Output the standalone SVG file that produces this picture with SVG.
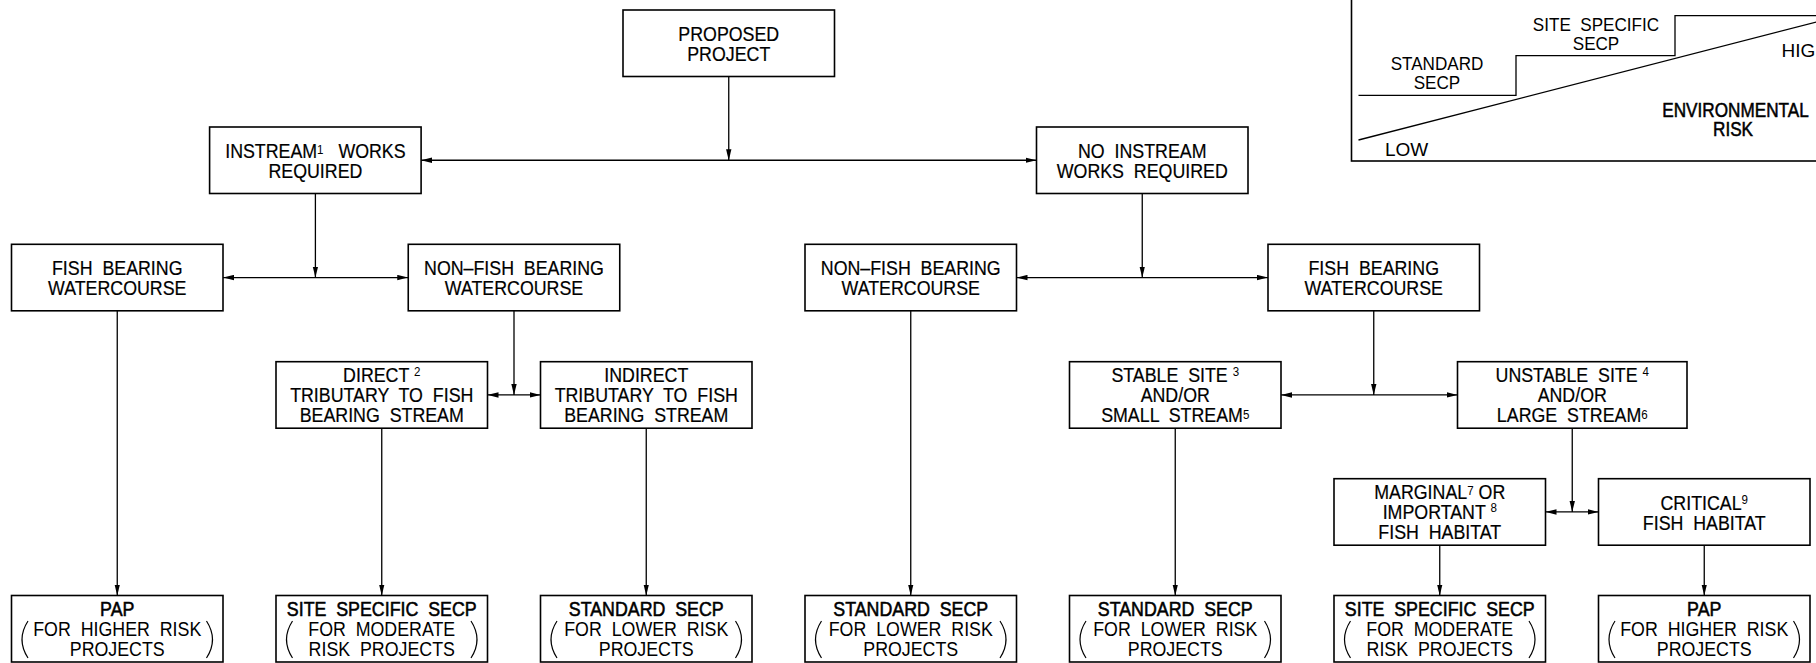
<svg xmlns="http://www.w3.org/2000/svg" width="1816" height="663" viewBox="0 0 1816 663">
<style>
text { font-family: "Liberation Sans", Arial, sans-serif; fill: #000; }
.n { font-size: 20px; text-anchor: middle; transform-box: fill-box; transform-origin: center; transform: scaleX(0.89); stroke: #000; stroke-width: 0.2px; }
.t { stroke-width: 0; }
.b { stroke-width: 0.55px; }
.s { font-size: 13px; stroke-width: 0; }
.lg { font-size: 19px; text-anchor: middle; transform-box: fill-box; transform-origin: center; transform: scaleX(0.9); }
.ls { font-size: 19px; text-anchor: start; }
.env { font-size: 19.5px; stroke: #000; stroke-width: 0.5px; transform: scaleX(0.88); }
.box { fill: #fff; stroke: #000; stroke-width: 1.6; }
.c { fill: none; stroke: #000; stroke-width: 1.3; }
.p { fill: none; stroke: #000; stroke-width: 1.2; }
</style>
<defs>
<marker id="ah" viewBox="0 0 11 6" refX="11" refY="3" markerWidth="11" markerHeight="6" markerUnits="userSpaceOnUse" orient="auto-start-reverse"><path d="M0,0.3 L11,3 L0,5.7 z" fill="#000"/></marker>
</defs>
<rect width="1816" height="663" fill="#fff"/>

<g id="legend">
<rect x="1351.5" y="-20" width="500" height="181" fill="none" stroke="#000" stroke-width="1.6"/>
<polyline class="c" points="1358.5,95.3 1516,95.3 1516,55.7 1675,55.7 1675,15.7 1830,15.7"/>
<line class="c" x1="1358.5" y1="140" x2="1830" y2="18.5"/>
<text class="lg" x="1437" y="70">STANDARD</text>
<text class="lg" x="1437" y="89.5">SECP</text>
<text class="lg" x="1596" y="31" xml:space="preserve">SITE  SPECIFIC</text>
<text class="lg" x="1596" y="50.5">SECP</text>
<text class="ls" x="1781.5" y="56.5">HIGH</text>
<text class="lg env" x="1735.5" y="117">ENVIRONMENTAL</text>
<text class="lg env" x="1733" y="136.5">RISK</text>
<text class="ls" x="1385" y="156">LOW</text>
</g>

<g id="connectors">
<line class="c" x1="728.75" y1="76.5" x2="728.75" y2="160.25" marker-end="url(#ah)"/>
<line class="c" x1="421.1" y1="160.25" x2="1036.5" y2="160.25" marker-start="url(#ah)" marker-end="url(#ah)"/>
<line class="c" x1="315.4" y1="193.5" x2="315.4" y2="277.55" marker-end="url(#ah)"/>
<line class="c" x1="223" y1="277.55" x2="408.25" y2="277.55" marker-start="url(#ah)" marker-end="url(#ah)"/>
<line class="c" x1="1142.25" y1="193.5" x2="1142.25" y2="277.55" marker-end="url(#ah)"/>
<line class="c" x1="1016.5" y1="277.55" x2="1268" y2="277.55" marker-start="url(#ah)" marker-end="url(#ah)"/>
<line class="c" x1="117.25" y1="310.8" x2="117.25" y2="595.5" marker-end="url(#ah)"/>
<line class="c" x1="514" y1="310.8" x2="514" y2="394.95" marker-end="url(#ah)"/>
<line class="c" x1="487.5" y1="394.95" x2="540.5" y2="394.95" marker-start="url(#ah)" marker-end="url(#ah)"/>
<line class="c" x1="381.75" y1="428.2" x2="381.75" y2="595.5" marker-end="url(#ah)"/>
<line class="c" x1="646.25" y1="428.2" x2="646.25" y2="595.5" marker-end="url(#ah)"/>
<line class="c" x1="910.75" y1="310.8" x2="910.75" y2="595.5" marker-end="url(#ah)"/>
<line class="c" x1="1373.75" y1="310.8" x2="1373.75" y2="394.95" marker-end="url(#ah)"/>
<line class="c" x1="1281" y1="394.95" x2="1457.5" y2="394.95" marker-start="url(#ah)" marker-end="url(#ah)"/>
<line class="c" x1="1175.25" y1="428.2" x2="1175.25" y2="595.5" marker-end="url(#ah)"/>
<line class="c" x1="1572.25" y1="428.2" x2="1572.25" y2="511.95" marker-end="url(#ah)"/>
<line class="c" x1="1545.5" y1="511.95" x2="1598.5" y2="511.95" marker-start="url(#ah)" marker-end="url(#ah)"/>
<line class="c" x1="1439.75" y1="545.2" x2="1439.75" y2="595.5" marker-end="url(#ah)"/>
<line class="c" x1="1704.25" y1="545.2" x2="1704.25" y2="595.5" marker-end="url(#ah)"/>
</g>

<g id="proposed-project">
<rect class="box" x="623" y="10" width="211.5" height="66.5"/>
<text class="n" x="728.75" y="41">PROPOSED</text>
<text class="n" x="728.75" y="61">PROJECT</text>
</g>

<g id="instream-works">
<rect class="box" x="209.6" y="127" width="211.5" height="66.5"/>
<text class="n" x="315.4" y="158" xml:space="preserve">INSTREAM<tspan class="s" dy="-4">1</tspan><tspan dy="4">   WORKS</tspan></text>
<text class="n" x="315.4" y="178">REQUIRED</text>
</g>

<g id="no-instream-works">
<rect class="box" x="1036.5" y="127" width="211.5" height="66.5"/>
<text class="n" x="1142.25" y="158" xml:space="preserve">NO  INSTREAM</text>
<text class="n" x="1142.25" y="178" xml:space="preserve">WORKS  REQUIRED</text>
</g>

<g id="fish-bearing-left">
<rect class="box" x="11.5" y="244.3" width="211.5" height="66.5"/>
<text class="n" x="117.25" y="275.3" xml:space="preserve">FISH  BEARING</text>
<text class="n" x="117.25" y="295.3">WATERCOURSE</text>
</g>

<g id="non-fish-bearing-left">
<rect class="box" x="408.25" y="244.3" width="211.5" height="66.5"/>
<text class="n" x="514" y="275.3" xml:space="preserve">NON–FISH  BEARING</text>
<text class="n" x="514" y="295.3">WATERCOURSE</text>
</g>

<g id="non-fish-bearing-right">
<rect class="box" x="805" y="244.3" width="211.5" height="66.5"/>
<text class="n" x="910.75" y="275.3" xml:space="preserve">NON–FISH  BEARING</text>
<text class="n" x="910.75" y="295.3">WATERCOURSE</text>
</g>

<g id="fish-bearing-right">
<rect class="box" x="1268" y="244.3" width="211.5" height="66.5"/>
<text class="n" x="1373.75" y="275.3" xml:space="preserve">FISH  BEARING</text>
<text class="n" x="1373.75" y="295.3">WATERCOURSE</text>
</g>

<g id="direct-tributary">
<rect class="box" x="276" y="361.7" width="211.5" height="66.5"/>
<text class="n" x="381.75" y="382.5" xml:space="preserve">DIRECT <tspan class="s" dy="-6">2</tspan></text>
<text class="n" x="381.75" y="402.5" xml:space="preserve">TRIBUTARY  TO  FISH</text>
<text class="n" x="381.75" y="422.5" xml:space="preserve">BEARING  STREAM</text>
</g>

<g id="indirect-tributary">
<rect class="box" x="540.5" y="361.7" width="211.5" height="66.5"/>
<text class="n" x="646.25" y="382.5">INDIRECT</text>
<text class="n" x="646.25" y="402.5" xml:space="preserve">TRIBUTARY  TO  FISH</text>
<text class="n" x="646.25" y="422.5" xml:space="preserve">BEARING  STREAM</text>
</g>

<g id="stable-site">
<rect class="box" x="1069.5" y="361.7" width="211.5" height="66.5"/>
<text class="n" x="1175.25" y="382.5" xml:space="preserve">STABLE  SITE <tspan class="s" dy="-6">3</tspan></text>
<text class="n" x="1175.25" y="402.5">AND/OR</text>
<text class="n" x="1175.25" y="422.5" xml:space="preserve">SMALL  STREAM<tspan class="s" dy="-3">5</tspan></text>
</g>

<g id="unstable-site">
<rect class="box" x="1457.5" y="361.7" width="229.5" height="66.5"/>
<text class="n" x="1572.25" y="382.5" xml:space="preserve">UNSTABLE  SITE <tspan class="s" dy="-6">4</tspan></text>
<text class="n" x="1572.25" y="402.5">AND/OR</text>
<text class="n" x="1572.25" y="422.5" xml:space="preserve">LARGE  STREAM<tspan class="s" dy="-3">6</tspan></text>
</g>

<g id="marginal-important-habitat">
<rect class="box" x="1334" y="478.7" width="211.5" height="66.5"/>
<text class="n" x="1439.75" y="499.5" xml:space="preserve">MARGINAL<tspan class="s" dy="-4">7</tspan><tspan dy="4"> OR</tspan></text>
<text class="n" x="1439.75" y="519.5" xml:space="preserve">IMPORTANT <tspan class="s" dy="-7">8</tspan></text>
<text class="n" x="1439.75" y="539.5" xml:space="preserve">FISH  HABITAT</text>
</g>

<g id="critical-habitat">
<rect class="box" x="1598.5" y="478.7" width="211.5" height="66.5"/>
<text class="n" x="1704.25" y="509.7" xml:space="preserve">CRITICAL<tspan class="s" dy="-6">9</tspan></text>
<text class="n" x="1704.25" y="529.7" xml:space="preserve">FISH  HABITAT</text>
</g>

<g id="result-pap-left">
<rect class="box" x="11.5" y="595.5" width="211.5" height="66.5"/>
<text class="n b" x="117.25" y="616.3">PAP</text>
<text class="n t" x="117.25" y="636.3" xml:space="preserve">FOR  HIGHER  RISK</text>
<text class="n t" x="117.25" y="656.3">PROJECTS</text>
<path class="p" d="M28,621 Q16,639.5 28,658 M206.5,621 Q218.5,639.5 206.5,658"/>
</g>

<g id="result-site-specific-left">
<rect class="box" x="276" y="595.5" width="211.5" height="66.5"/>
<text class="n b" x="381.75" y="616.3" xml:space="preserve">SITE  SPECIFIC  SECP</text>
<text class="n t" x="381.75" y="636.3" xml:space="preserve">FOR  MODERATE</text>
<text class="n t" x="381.75" y="656.3" xml:space="preserve">RISK  PROJECTS</text>
<path class="p" d="M292.5,621 Q280.5,639.5 292.5,658 M471,621 Q483,639.5 471,658"/>
</g>

<g id="result-standard-1">
<rect class="box" x="540.5" y="595.5" width="211.5" height="66.5"/>
<text class="n b" x="646.25" y="616.3" xml:space="preserve">STANDARD  SECP</text>
<text class="n t" x="646.25" y="636.3" xml:space="preserve">FOR  LOWER  RISK</text>
<text class="n t" x="646.25" y="656.3">PROJECTS</text>
<path class="p" d="M557,621 Q545,639.5 557,658 M735.5,621 Q747.5,639.5 735.5,658"/>
</g>

<g id="result-standard-2">
<rect class="box" x="805" y="595.5" width="211.5" height="66.5"/>
<text class="n b" x="910.75" y="616.3" xml:space="preserve">STANDARD  SECP</text>
<text class="n t" x="910.75" y="636.3" xml:space="preserve">FOR  LOWER  RISK</text>
<text class="n t" x="910.75" y="656.3">PROJECTS</text>
<path class="p" d="M821.5,621 Q809.5,639.5 821.5,658 M1000,621 Q1012,639.5 1000,658"/>
</g>

<g id="result-standard-3">
<rect class="box" x="1069.5" y="595.5" width="211.5" height="66.5"/>
<text class="n b" x="1175.25" y="616.3" xml:space="preserve">STANDARD  SECP</text>
<text class="n t" x="1175.25" y="636.3" xml:space="preserve">FOR  LOWER  RISK</text>
<text class="n t" x="1175.25" y="656.3">PROJECTS</text>
<path class="p" d="M1086,621 Q1074,639.5 1086,658 M1264.5,621 Q1276.5,639.5 1264.5,658"/>
</g>

<g id="result-site-specific-right">
<rect class="box" x="1334" y="595.5" width="211.5" height="66.5"/>
<text class="n b" x="1439.75" y="616.3" xml:space="preserve">SITE  SPECIFIC  SECP</text>
<text class="n t" x="1439.75" y="636.3" xml:space="preserve">FOR  MODERATE</text>
<text class="n t" x="1439.75" y="656.3" xml:space="preserve">RISK  PROJECTS</text>
<path class="p" d="M1350.5,621 Q1338.5,639.5 1350.5,658 M1529,621 Q1541,639.5 1529,658"/>
</g>

<g id="result-pap-right">
<rect class="box" x="1598.5" y="595.5" width="211.5" height="66.5"/>
<text class="n b" x="1704.25" y="616.3">PAP</text>
<text class="n t" x="1704.25" y="636.3" xml:space="preserve">FOR  HIGHER  RISK</text>
<text class="n t" x="1704.25" y="656.3">PROJECTS</text>
<path class="p" d="M1615,621 Q1603,639.5 1615,658 M1793.5,621 Q1805.5,639.5 1793.5,658"/>
</g>
</svg>
